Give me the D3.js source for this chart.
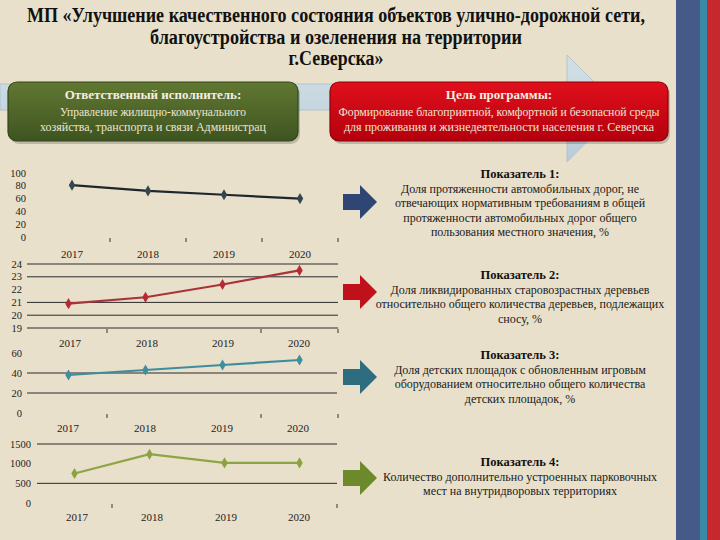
<!DOCTYPE html>
<html><head><meta charset="utf-8">
<script src="https://cdn.jsdelivr.net/npm/d3@7"></script>
<style>
html,body{margin:0;padding:0;background:#E8E0CB;}
svg{display:block;font-family:"Liberation Serif","DejaVu Serif",serif;}
</style></head><body>
<svg id="c" width="720" height="540"></svg>
<script>
// ---- data ----
const years = ["2017","2018","2019","2020"];
const ind1Values = [81, 72, 66, 60];
const ind2Values = [20.9, 21.4, 22.4, 23.5];
const ind3Values = [38, 43, 48, 53];
const ind4Values = [750, 1240, 1020, 1020];
const ind1Ticks = [0,20,40,60,80,100];
const ind2Ticks = [19,20,21,22,23,24];
const ind3Ticks = [0,20,40,60];
const ind4Ticks = [0,500,1000,1500];
const ind2Grid = [20,21,23,24];
const ind3Grid = [20,40];
const ind4Grid = [500,1500];
const titleLines = ["МП «Улучшение качественного состояния объектов улично-дорожной сети,",
  "благоустройства и озеленения  на территории","г.Северска»"];
const execTitle = "Ответственный исполнитель:";
const execLines = ["Управление жилищно-коммунального","хозяйства, транспорта и связи Администрац"];
const goalTitle = "Цель программы:";
const goalLines = ["Формирование благоприятной, комфортной и безопасной среды",
  "для проживания и  жизнедеятельности населения г. Северска"];
const indTitles = ["Показатель 1:","Показатель 2:","Показатель 3:","Показатель 4:"];
const indTexts = [
 ["Доля протяженности автомобильных дорог, не","отвечающих нормативным требованиям в общей","протяженности автомобильных дорог общего","пользования местного значения, %"],
 ["Доля ликвидированных старовозрастных деревьев","относительно общего количества  деревьев, подлежащих","сносу, %"],
 ["Доля детских площадок с обновленным игровым","оборудованием относительно общего количества","детских площадок, %"],
 ["Количество дополнительно устроенных парковочных","мест на внутридворовых территориях"]
];

const svg = d3.select("#c");
const defs = svg.append("defs");
function grad(id, c1, c2){
  const g = defs.append("linearGradient").attr("id",id).attr("x1",0).attr("y1",0).attr("x2",0).attr("y2",1);
  g.append("stop").attr("offset","0%").attr("stop-color",c1);
  g.append("stop").attr("offset","100%").attr("stop-color",c2);
}
grad("gGreen","#617832","#3E5420");
grad("gRed","#E0101C","#B5000E");
grad("gBlue","#D3E0E6","#B9CDD7");

svg.append("rect").attr("width",720).attr("height",540).attr("fill","#E8E0CB");

// stripes
svg.append("rect").attr("x",676).attr("y",0).attr("width",24).attr("height",540).attr("fill","#465A8A");
svg.append("rect").attr("x",700).attr("y",0).attr("width",7).attr("height",540).attr("fill","#3A8AA6");
svg.append("rect").attr("x",707).attr("y",0).attr("width",13).attr("height",540).attr("fill","#C7282E");

// title
const tw = [618, 372, 95], ty = [22, 44, 65];
titleLines.forEach((t,i)=>{
  svg.append("text").attr("x",336).attr("y",ty[i]).attr("text-anchor","middle")
    .attr("font-size",20).attr("font-weight","bold").attr("fill","#111")
    .attr("textLength",tw[i]).attr("lengthAdjust","spacingAndGlyphs").text(t);
});

// background light arrow
svg.append("path").attr("d","M0,84 L567,84 L567,55 L620,108 L567,162 L567,110 L0,110 Z")
  .attr("fill","url(#gBlue)").attr("stroke","#A9BFCB").attr("stroke-width",0.8);

// boxes
function box(x,y,w,h,fill,stroke,title,lines,cx,widths){
  svg.append("rect").attr("x",x+2).attr("y",y+3).attr("width",w).attr("height",h).attr("rx",9)
    .attr("fill","#000").attr("opacity",0.18);
  svg.append("rect").attr("x",x).attr("y",y).attr("width",w).attr("height",h).attr("rx",9)
    .attr("fill",fill).attr("stroke",stroke).attr("stroke-width",1.2);
  svg.append("text").attr("x",cx).attr("y",y+17).attr("text-anchor","middle").attr("font-size",13)
    .attr("font-weight","bold").attr("fill","#F4EEE0").text(title);
  lines.forEach((t,i)=>svg.append("text").attr("x",cx).attr("y",y+34+i*15).attr("text-anchor","middle")
    .attr("font-size",12.5).attr("fill","#EDE5D2")
    .attr("textLength",widths[i]).attr("lengthAdjust","spacingAndGlyphs").text(t));
}
box(8,82,290,59,"url(#gGreen)","#33461A",execTitle,execLines,153,[186,226]);
box(330,82,338,59,"url(#gRed)","#8E0008",goalTitle,goalLines,499,[321,310]);

// charts
const charts = [
 {vals:ind1Values, ticks:ind1Ticks, grid:[], dom:[0,100], yr:[237,173], xr:[34,338], gx:[34,338],
  lab:26, yl:258, tickIdx:[1,2,3,4], axis:false, line:"#1E272C", mark:"#34474F", yx:[72,148,224,300]},
 {vals:ind2Values, ticks:ind2Ticks, grid:ind2Grid, dom:[19,24], yr:[328,264], xr:[30,338], gx:[27,338],
  lab:22, yl:347, tickIdx:[1,3,4], axis:true, line:"#A9333B", mark:"#B72A35", yx:[70,147,223,299]},
 {vals:ind3Values, ticks:ind3Ticks, grid:ind3Grid, dom:[0,60], yr:[413,353], xr:[30,338], gx:[27,337],
  lab:22, yl:432, tickIdx:[1,3,4], axis:false, line:"#3E8D9D", mark:"#3F8E9E", yx:[68,145,222,298]},
 {vals:ind4Values, ticks:ind4Ticks, grid:ind4Grid, dom:[0,1500], yr:[503,444], xr:[37,337], gx:[37,337],
  lab:31, yl:521, tickIdx:[1,4], axis:false, line:"#8DA544", mark:"#8AA33F", yx:[77,152,226,299]}
];
charts.forEach(c=>{
  const g = svg.append("g");
  const x = d3.scaleBand().domain(years).range(c.xr);
  const y = d3.scaleLinear().domain(c.dom).range(c.yr);
  c.grid.forEach(v=>g.append("line").attr("x1",c.gx[0]).attr("x2",c.gx[1]).attr("y1",y(v)).attr("y2",y(v))
    .attr("stroke","#2A2A2A").attr("stroke-width",1));
  if(c.axis) g.append("line").attr("x1",c.gx[0]).attr("x2",c.gx[1]).attr("y1",y(c.dom[0])).attr("y2",y(c.dom[0]))
    .attr("stroke","#2A2A2A").attr("stroke-width",1);
  c.ticks.forEach(v=>g.append("text").attr("x",c.lab).attr("y",y(v)+3.5).attr("text-anchor","end")
    .attr("font-size",10.5).attr("fill","#222").text(d3.format("d")(v)));
  const bounds = years.map(yv=>x(yv)).concat([c.xr[1]]);
  c.tickIdx.forEach(i=>g.append("line").attr("x1",bounds[i]).attr("x2",bounds[i])
    .attr("y1",y(c.dom[0])+1).attr("y2",y(c.dom[0])+5).attr("stroke","#333").attr("stroke-width",1));
  years.forEach((yv,i)=>g.append("text").attr("x",c.yx[i]).attr("y",c.yl).attr("text-anchor","middle")
    .attr("font-size",11).attr("fill","#222").text(yv));
  const pts = c.vals.map((v,i)=>[x(years[i])+x.bandwidth()/2, y(v)]);
  g.append("path").attr("d",d3.line()(pts)).attr("fill","none").attr("stroke",c.line).attr("stroke-width",2.2);
  g.selectAll(".m").data(pts).enter().append("path")
    .attr("transform",d=>`translate(${d[0]},${d[1]})`)
    .attr("d",d3.symbol(d3.symbolDiamond, 36)())
    .attr("fill",c.mark);
});

// block arrows
const arrowColors = ["#2F4674","#C0111B","#2E6D80","#6C8A2C"];
const arrowY = [202, 292, 377, 478];
arrowColors.forEach((col,i)=>{
  const cy = arrowY[i];
  svg.append("path").attr("d",`M343,${cy-8} L360,${cy-8} L360,${cy-17} L377,${cy} L360,${cy+17} L360,${cy+8} L343,${cy+8} Z`)
    .attr("fill",col);
});

// indicator texts
const indY = [178, 279, 359, 466];
indTitles.forEach((t,i)=>{
  svg.append("text").attr("x",520).attr("y",indY[i]).attr("text-anchor","middle").attr("font-size",12.5)
    .attr("font-weight","bold").attr("fill","#111").text(t);
  indTexts[i].forEach((l,j)=>svg.append("text").attr("x",520).attr("y",indY[i]+14.5*(j+1)).attr("text-anchor","middle")
    .attr("font-size",12).attr("fill","#1A1A1A").text(l));
});
</script>
</body></html>
